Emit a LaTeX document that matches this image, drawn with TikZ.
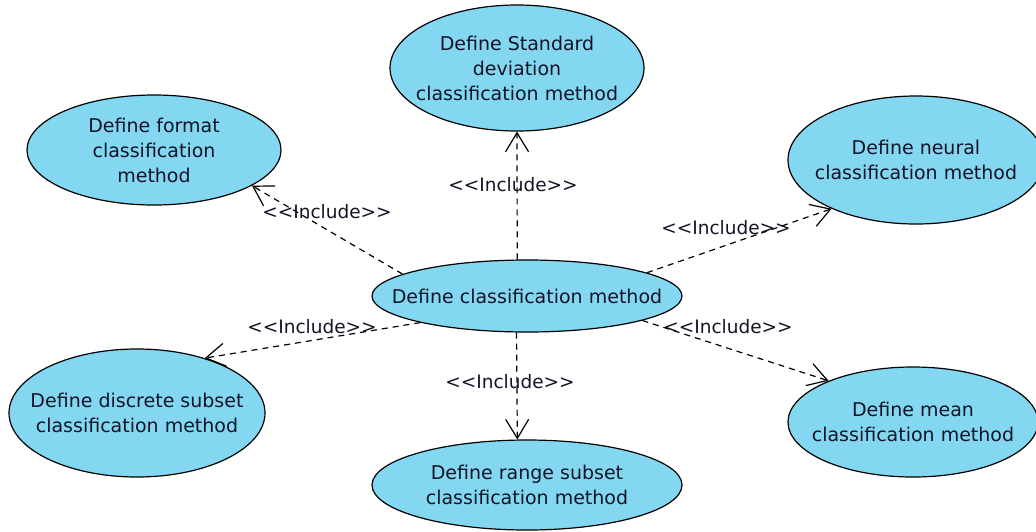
\documentclass[tikz,border=0pt]{standalone}
\usepackage{fontspec}
\newfontfamily\umlfont{DejaVu Sans}
\usetikzlibrary{shapes.geometric,arrows.meta}
\definecolor{caseblue}{RGB}{131,215,241}
\definecolor{casetext}{RGB}{20,20,40}
\begin{document}
\begin{tikzpicture}[x=1pt,y=1pt,
  usecase/.style={draw, ellipse, fill=caseblue, line width=1.2pt, align=center, inner xsep=-40pt, inner ysep=0pt, text=casetext, font=\umlfont\fontsize{19}{25}\selectfont},
  include/.style={line width=1.2pt, dash pattern=on 6pt off 5pt, -{Straight Barb[length=19pt,width=23pt,line width=1.2pt]}},
  inclabel/.style={inner sep=0pt, text=casetext, font=\umlfont\fontsize{18.5}{22}\selectfont}]
\useasboundingbox (0,0) rectangle (1036,-531);

\node[usecase, minimum width=254pt, minimum height=126pt] (std) at (517,-68) {Define Standard\\deviation\\classification method};
\node[usecase, minimum width=254pt, minimum height=110pt] (fmt) at (154,-150) {Define format\\classification\\method};
\node[usecase, minimum width=256pt, minimum height=128pt] (neu) at (916,-160) {Define neural\\classification method};
\node[usecase, minimum width=310pt, minimum height=72pt] (cls) at (527,-296) {Define classification method};
\node[usecase, minimum width=256pt, minimum height=128pt] (dis) at (137,-413) {Define discrete subset\\classification method};
\node[usecase, minimum width=250pt, minimum height=110pt] (mean) at (913,-422) {Define mean\\classification method};
\node[usecase, minimum width=310pt, minimum height=90pt] (rng) at (527,-485) {Define range subset\\classification method};

\draw[include] (cls.105) -- (std.south);
\draw[include] (cls.170) -- (fmt.-20);
\draw[include] (cls.11) -- (neu.210);
\draw[include] (cls.194) -- (dis.39);
\draw[include] (cls.348) -- (mean.154);
\draw[include] (cls.254) -- (rng.102);

\node[inclabel] (lstd) at (513,-185) {<<Include>>};
\node[inclabel] (lfmt) at (327,-212) {<<Include>>};
\node[inclabel] (lneu) at (726,-228) {<<Include>>};
\node[inclabel] (ldis) at (312,-327) {<<Include>>};
\node[inclabel] (lmean) at (728,-327) {<<Include>>};
\node[inclabel] (lrng) at (510,-382) {<<Include>>};
\end{tikzpicture}
\end{document}
